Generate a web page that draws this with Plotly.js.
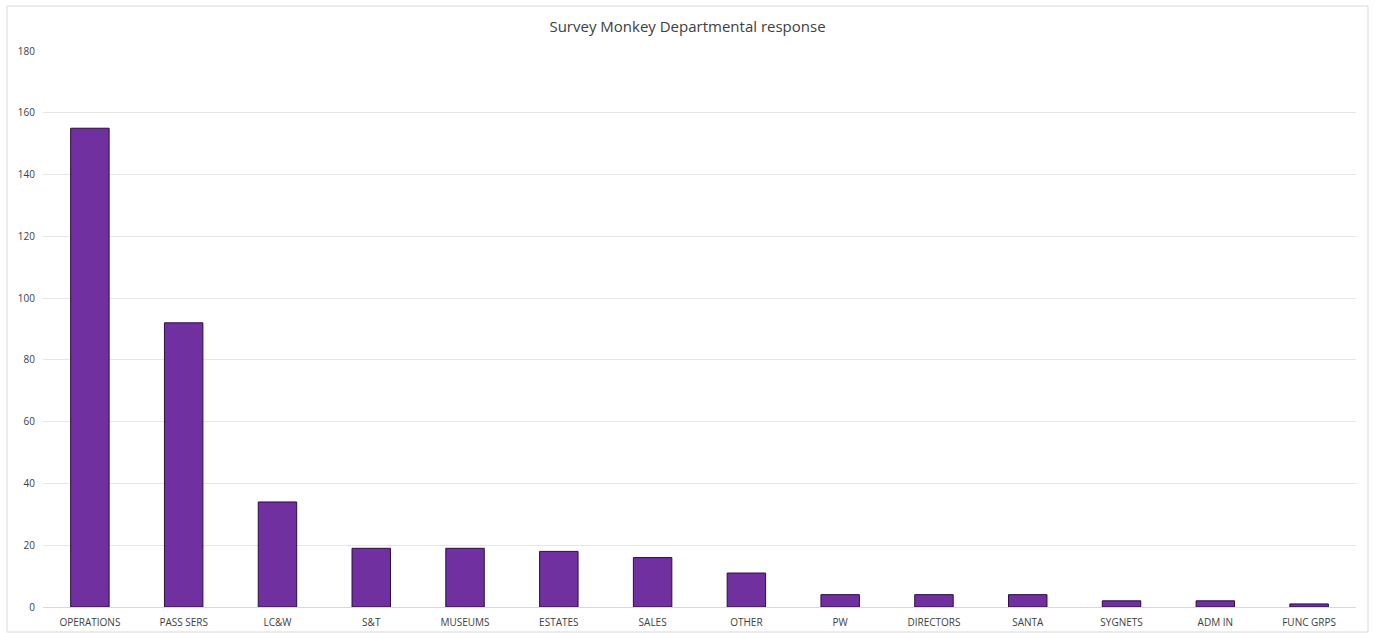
<!DOCTYPE html>
<html>
<head>
<meta charset="utf-8">
<script src="https://cdn.plot.ly/plotly-3.0.1.min.js"></script>
<style>
html,body{margin:0;padding:0;background:#fff;}
#chart{width:1375px;height:633px;}
</style>
</head>
<body>
<div id="chart"></div>
<script>
const departments = ["OPERATIONS","PASS SERS","LC&W","S&T","MUSEUMS","ESTATES","SALES","OTHER","PW","DIRECTORS","SANTA","SYGNETS","ADM IN","FUNC GRPS"];
const responses = [155, 92, 34, 19, 19, 18, 16, 11, 4, 4, 4, 2, 2, 1];
const yTicks = [0,20,40,60,80,100,120,140,160,180];

const W = 1375, H = 633;
const m = {l:43, r:19, t:51, b:26};
const pw = W - m.l - m.r, ph = H - m.t - m.b;
// outer chart border (pixels -> paper)
const bx0 = (7 - m.l)/pw, bx1 = (1368 - m.l)/pw;
const by1 = 1 + (m.t - 6)/ph, by0 = -(632 - (H - m.b))/ph;

const FONT = '"Open Sans", "Liberation Sans", sans-serif';

const trace = {
  type: 'bar',
  x: departments,
  y: responses,
  marker: {color: '#7030A0', line: {color: '#2a0f3f', width: 1}},
  hoverinfo: 'x+y'
};

const layout = {
  width: W, height: H,
  margin: m,
  paper_bgcolor: '#ffffff',
  plot_bgcolor: '#ffffff',
  bargap: 0.59,
  showlegend: false,
  font: {family: FONT, color: '#595959', size: 10},
  title: {
    text: 'Survey Monkey Departmental response',
    font: {size: 15, color: '#404040', family: FONT},
    x: 0.5, xanchor: 'center', y: 1 - 27/H, yanchor: 'middle'
  },
  xaxis: {
    type: 'category',
    tickfont: {size: 10, color: '#404040', family: FONT},
    showgrid: false,
    showline: true, linecolor: '#d9d9d9', linewidth: 1,
    ticks: '', ticklen: 0,
    ticklabelstandoff: 6,
    automargin: false
  },
  yaxis: {
    range: [0, 180],
    tickvals: yTicks,
    ticktext: yTicks.map(String),
    tickfont: {size: 10, color: '#404040', family: FONT},
    showgrid: true, gridcolor: '#e6e6e6', gridwidth: 1,
    zeroline: false,
    showline: false,
    ticks: '',
    ticklabelstandoff: 7,
    automargin: false
  },
  shapes: [{
    type: 'rect', xref: 'paper', yref: 'paper',
    x0: bx0, x1: bx1, y0: by0, y1: by1,
    line: {color: '#d9d9d9', width: 1},
    fillcolor: 'rgba(0,0,0,0)', layer: 'below'
  }]
};

Plotly.newPlot('chart', [trace], layout, {displayModeBar: false, responsive: false});
</script>
</body>
</html>
